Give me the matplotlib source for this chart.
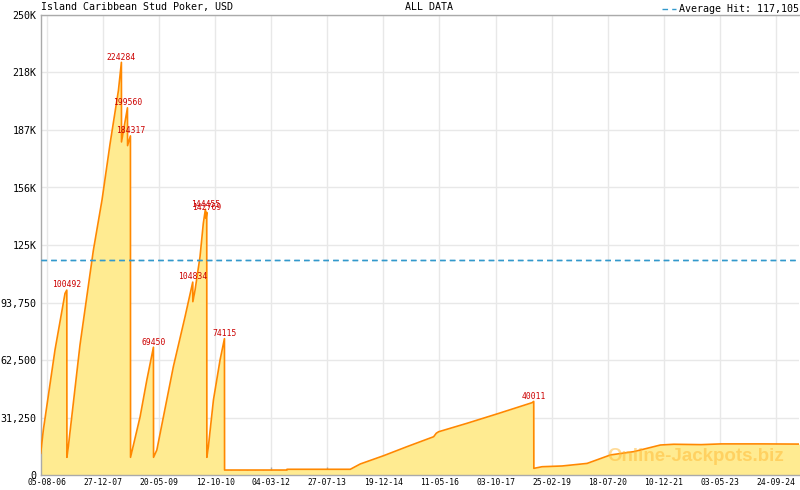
import matplotlib
matplotlib.use("Agg")
import matplotlib.pyplot as plt
import numpy as np
import pandas as pd

# ---- data ----
dates = [
    "2006-06-11", "2006-07-05", "2006-10-19", "2007-01-18", "2007-02-03",
    "2007-02-04", "2007-02-17", "2007-06-03", "2007-10-02", "2007-12-20",
    "2008-03-02", "2008-05-17", "2008-06-13", "2008-06-14", "2008-08-07",
    "2008-08-08", "2008-09-03", "2008-09-04", "2008-11-30", "2009-01-30",
    "2009-03-31", "2009-04-01", "2009-05-01", "2009-09-28", "2010-01-12",
    "2010-03-23", "2010-03-24", "2010-04-13", "2010-05-28", "2010-06-27",
    "2010-07-16", "2010-07-22", "2010-07-28", "2010-07-29", "2010-08-12",
    "2010-09-27", "2010-11-26", "2011-01-05", "2011-01-06", "2012-07-25",
    "2012-07-26", "2014-02-21", "2014-05-23", "2014-12-21", "2015-07-21",
    "2016-03-19", "2016-04-12", "2016-05-03", "2017-01-16", "2017-10-16",
    "2018-08-30", "2018-09-14", "2018-09-15", "2018-11-29", "2019-05-30",
    "2020-01-12", "2020-08-11", "2021-03-11", "2021-11-08", "2022-03-09",
    "2022-11-12", "2023-05-13", "2024-05-10", "2025-04-24",
]
values = [
    11800, 24500, 68000, 98700, 100492,
    9600, 15400, 70700, 122000, 149500,
    180000, 209000, 224284, 181000, 199560,
    179000, 184317, 9600, 31700, 51600,
    69450, 9600, 13600, 58900, 86000,
    104834, 94200, 100500, 118600, 136800,
    144455, 139500, 142769, 9600, 15400,
    40800, 62500, 74115, 2700, 2700,
    3100, 3100, 6000, 10500, 15400,
    20800, 22700, 23500, 28100, 33200,
    39300, 40011, 3600, 4500, 4900,
    6300, 10900, 12700, 16300, 16700,
    16500, 16900, 16900, 16800,
]
peak_dates = ["2007-02-03", "2008-06-13", "2008-08-07", "2008-09-03", "2009-03-31",
              "2010-03-23", "2010-07-16", "2010-07-28", "2011-01-05", "2018-09-14"]
peak_values = [100492, 224284, 199560, 184317, 69450, 104834, 144455, 142769, 74115, 40011]

average_hit = 117105

xtick_labels = ["05-08-06", "27-12-07", "20-05-09", "12-10-10", "04-03-12", "27-07-13",
                "19-12-14", "11-05-16", "03-10-17", "25-02-19", "18-07-20", "10-12-21",
                "03-05-23", "24-09-24"]
ytick_values = [0, 31250, 62500, 93750, 125000, 156250, 187500, 218750, 250000]
ytick_labels = ["0", "31,250", "62,500", "93,750", "125K", "156K", "187K", "218K", "250K"]

title_left = "Island Caribbean Stud Poker, USD"
title_mid = "ALL DATA"
watermark = "Online-Jackpots.biz"

# ---- plot ----
mono = ["DejaVu Sans Mono"]
x = pd.to_datetime(dates)
W, H = 800, 490
fig = plt.figure(figsize=(W / 100, H / 100), dpi=100)
L, R, T, B = 40.7, 799.5, 15, 475
ax = fig.add_axes([L / W, (H - B) / H, (R - L) / W, (B - T) / H])

ax.fill_between(x, values, 0, color="#ffeb91", lw=0, zorder=2)
ax.plot(x, values, color="#ff8800", lw=1.2, zorder=3)
avg_line, = ax.plot([x[0], x[-1]], [average_hit, average_hit], color="#3399cc",
                    lw=1.0, dashes=(4, 3), zorder=4,
                    label="Average Hit: " + f"{average_hit:,}")
ax.axhline(average_hit, color="#3399cc", lw=1.0, dashes=(4, 3), zorder=4)

for d, v in zip(peak_dates, peak_values):
    ax.annotate(str(v), (pd.Timestamp(d), v), xytext=(0, 0.5), textcoords="offset points",
                ha="center", va="bottom", color="#cc0000", fontsize=5.8,
                family=mono, zorder=6)

ax.set_ylim(0, 250000)
ax.set_xlim(pd.Timestamp("2006-06-11"), pd.Timestamp("2025-04-24"))

xt = pd.to_datetime(xtick_labels, format="%d-%m-%y")
ax.set_xticks(xt)
ax.set_xticklabels(xtick_labels, family=mono, fontsize=5.8)
step = (xt[1] - xt[0]) / 7
minors = []
t = xt[0]
while t > pd.Timestamp("2006-06-11"):
    t = t - step
while t < pd.Timestamp("2025-04-24"):
    if t >= pd.Timestamp("2006-06-11"):
        minors.append(t)
    t = t + step
ax.set_xticks(minors, minor=True)
ax.set_yticks(ytick_values)
ax.set_yticklabels(ytick_labels, family=mono, fontsize=7.2)

ax.tick_params(axis="x", which="major", direction="in", length=6, width=1,
               color="#aaaaaa", pad=2.5)
ax.tick_params(axis="x", which="minor", direction="in", length=3.5, width=1,
               color="#aaaaaa")
ax.tick_params(axis="y", length=0, pad=3)
ax.grid(True, which="major", color="#e8e8e8", lw=1, zorder=0)
ax.set_axisbelow(True)
for s in ["left", "bottom", "top"]:
    ax.spines[s].set_color("#aaaaaa")
    ax.spines[s].set_linewidth(1)
ax.spines["right"].set_visible(False)

fig.text(41 / W, 1 - 7 / H, title_left, family=mono, fontsize=7.2, va="center", ha="left")
fig.text(405 / W, 1 - 7 / H, title_mid, family=mono, fontsize=7.2, va="center", ha="left")
leg = ax.legend(handles=[avg_line], loc="lower right", bbox_to_anchor=(1.0, 1.0),
                frameon=False, borderaxespad=0, borderpad=0.05, handlelength=1.4,
                handletextpad=0.3, prop={"family": mono, "size": 7.2})

ax.text(0.98, 0.04, watermark, transform=ax.transAxes, ha="right", va="center",
        fontsize=13.5, fontweight="bold", family=["Liberation Sans"],
        color="#ffb833", alpha=0.5, zorder=7)

fig.savefig("out.png", dpi=100)
